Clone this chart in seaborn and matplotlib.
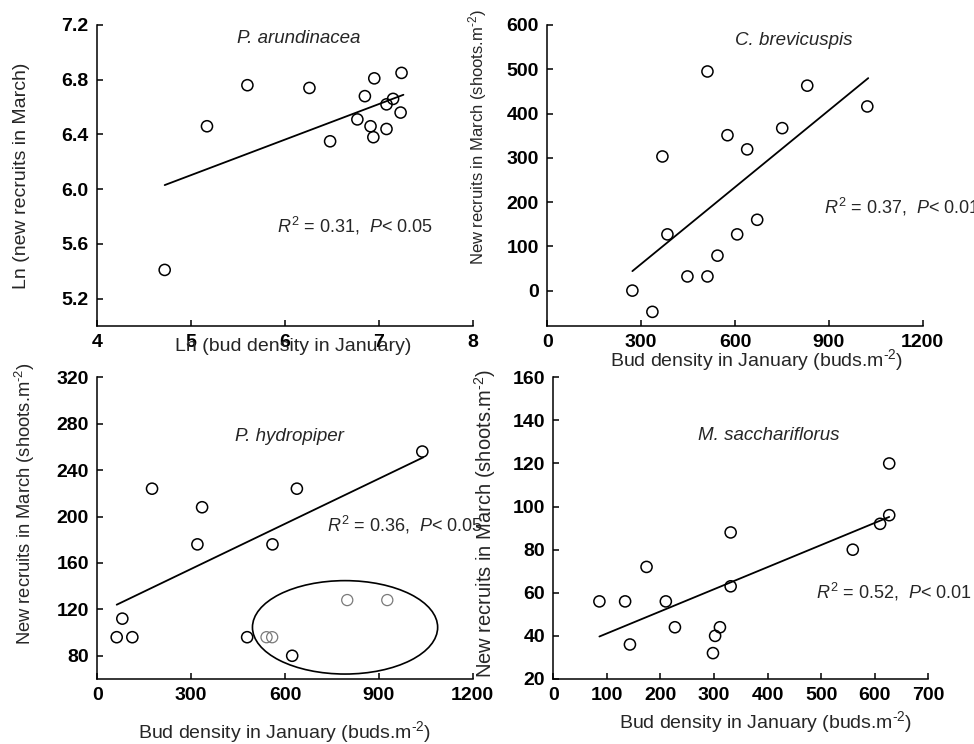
"""Reclutamiento de brotes en marzo vs. densidad de yemas en enero (4 especies)."""

import matplotlib

matplotlib.use("Agg")
import matplotlib.pyplot as plt
from matplotlib.patches import Ellipse
import pandas as pd
import seaborn as sns

# --- P. arundinacea (escala ln-ln) ---
arund_x = [4.72, 5.17, 5.60, 6.26, 6.48, 6.77, 6.85, 6.95, 6.91, 6.94, 7.08, 7.08, 7.15, 7.24, 7.23]
arund_y = [5.41, 6.46, 6.76, 6.74, 6.35, 6.51, 6.68, 6.81, 6.46, 6.38, 6.44, 6.62, 6.66, 6.85, 6.56]
arund_fit_x = [4.72, 7.26]
arund_fit_y = [6.03, 6.69]

# --- C. brevicuspis ---
brev_x = [272, 336, 368, 384, 448, 512, 512, 544, 576, 607, 639, 671, 751, 831, 1023]
brev_y = [0, -48, 303, 127, 32, 495, 32, 79, 351, 127, 319, 160, 367, 463, 416]
brev_fit_x = [272, 1026]
brev_fit_y = [44, 480]

# --- P. hydropiper (los puntos dentro de la elipse van en gris) ---
hydro_x = [62, 80, 112, 175, 320, 335, 479, 560, 623, 638, 1039]
hydro_y = [96, 112, 96, 224, 176, 208, 96, 176, 80, 224, 256]
hydro_grey_x = [541, 559, 799, 927]
hydro_grey_y = [96, 96, 128, 128]
hydro_fit_x = [62, 1042]
hydro_fit_y = [124, 251]

# --- M. sacchariflorus ---
sacch_x = [86, 134, 143, 174, 210, 227, 298, 302, 311, 331, 331, 559, 610, 627, 627]
sacch_y = [56, 56, 36, 72, 56, 44, 32, 40, 44, 88, 63, 80, 92, 96, 120]
sacch_fit_x = [86, 627]
sacch_fit_y = [39.7, 95.2]

BUD_LABEL = r"Bud density in January (buds.m$^{\text{-}2}$)"
NEW_LABEL = r"New recruits in March (shoots.m$^{\text{-}2}$)"

sns.set_theme(style="ticks")
plt.rcParams.update(
    {
        "font.family": ["Liberation Sans", "DejaVu Sans"],
        "mathtext.fontset": "custom",
        "mathtext.rm": "Liberation Sans",
        "mathtext.it": "Liberation Sans:italic",
        "axes.linewidth": 1.1,
        "axes.edgecolor": "black",
    }
)

fig = plt.figure(figsize=(9.74, 7.44), dpi=100)

panels = [
    dict(
        rect=[0.0996, 0.5618, 0.386, 0.4046],
        x=arund_x, y=arund_y, fx=arund_fit_x, fy=arund_fit_y,
        xlim=(4, 8), ylim=(5.0, 7.2),
        xticks=[4, 5, 6, 7, 8], yticks=[5.2, 5.6, 6.0, 6.4, 6.8, 7.2], yfmt="{:.1f}",
        species="P. arundinacea", sp_xy=(6.15, 7.10),
        stat=r"$R^2$ = 0.31,  $P$< 0.05", st_xy=(5.91, 5.73),
        xlabel="Ln (bud density in January)", xl_xy=(0.521, -0.040),
        ylabel="Ln (new recruits in March)", yl_xy=(-0.200, 0.50), yl_size=14,
    ),
    dict(
        rect=[0.5619, 0.5618, 0.3854, 0.4046],
        x=brev_x, y=brev_y, fx=brev_fit_x, fy=brev_fit_y,
        xlim=(0, 1200), ylim=(-80, 600),
        xticks=[0, 300, 600, 900, 1200], yticks=[0, 100, 200, 300, 400, 500, 600], yfmt="{:.0f}",
        species="C. brevicuspis", sp_xy=(789, 564),
        stat=r"$R^2$ = 0.37,  $P$< 0.01", st_xy=(886, 188),
        xlabel=BUD_LABEL, xl_xy=(0.558, -0.070),
        ylabel=NEW_LABEL, yl_xy=(-0.185, 0.628), yl_size=12,
    ),
    dict(
        rect=[0.0999, 0.0874, 0.3854, 0.4055],
        x=hydro_x, y=hydro_y, fx=hydro_fit_x, fy=hydro_fit_y,
        xlim=(0, 1200), ylim=(60, 320),
        xticks=[0, 300, 600, 900, 1200], yticks=[80, 120, 160, 200, 240, 280, 320], yfmt="{:.0f}",
        species="P. hydropiper", sp_xy=(614, 269),
        stat=r"$R^2$ = 0.36,  $P$< 0.05", st_xy=(734, 193),
        xlabel=BUD_LABEL, xl_xy=(0.50, -0.132),
        ylabel=NEW_LABEL, yl_xy=(-0.193, 0.582), yl_size=13.2,
    ),
    dict(
        rect=[0.5681, 0.0874, 0.385, 0.4055],
        x=sacch_x, y=sacch_y, fx=sacch_fit_x, fy=sacch_fit_y,
        xlim=(0, 700), ylim=(20, 160),
        xticks=[0, 100, 200, 300, 400, 500, 600, 700], yticks=[20, 40, 60, 80, 100, 120, 140, 160],
        yfmt="{:.0f}",
        species="M. sacchariflorus", sp_xy=(403, 133),
        stat=r"$R^2$ = 0.52,  $P$< 0.01", st_xy=(490, 60.6),
        xlabel=BUD_LABEL, xl_xy=(0.565, -0.100),
        ylabel=NEW_LABEL, yl_xy=(-0.182, 0.517), yl_size=14.5,
    ),
]

axes = []
for p in panels:
    ax = fig.add_axes(p["rect"])
    axes.append(ax)
    df = pd.DataFrame({"x": p["x"], "y": p["y"]})
    sns.scatterplot(
        data=df, x="x", y="y", ax=ax, s=64, marker="o",
        facecolor="none", edgecolor="black", linewidth=1.1, zorder=3,
    )
    fit = pd.DataFrame({"x": p["fx"], "y": p["fy"]})
    sns.lineplot(data=fit, x="x", y="y", ax=ax, color="black", linewidth=1.3, zorder=2)

    ax.set_xlim(*p["xlim"])
    ax.set_ylim(*p["ylim"])
    ax.set_xticks(p["xticks"])
    ax.set_yticks(p["yticks"])
    ax.set_yticklabels([p["yfmt"].format(v) for v in p["yticks"]])
    ax.tick_params(direction="in", length=4, width=1.1, labelsize=14, colors="black", pad=6)
    for lab in ax.get_xticklabels() + ax.get_yticklabels():
        lab.set_fontweight("bold")
    sns.despine(ax=ax)

    ax.set_xlabel(p["xlabel"], fontsize=14, va="top")
    ax.xaxis.set_label_coords(*p["xl_xy"])
    ax.set_ylabel(p["ylabel"], fontsize=p["yl_size"], va="center")
    ax.yaxis.set_label_coords(*p["yl_xy"])

    ax.text(*p["sp_xy"], p["species"], style="italic", fontsize=13.5, ha="center", va="center")
    ax.text(*p["st_xy"], p["stat"], fontsize=13, ha="left", va="center")

# puntos grises y elipse en P. hydropiper
ax3 = axes[2]
grey = pd.DataFrame({"x": hydro_grey_x, "y": hydro_grey_y})
sns.scatterplot(
    data=grey, x="x", y="y", ax=ax3, s=64, marker="o",
    facecolor="none", edgecolor="#7a7a7a", linewidth=0.9, zorder=3,
)
ax3.add_patch(Ellipse((792, 104.5), 592, 80.5, fill=False, edgecolor="black", linewidth=1.2))

fig.savefig("out.png", dpi=100)
